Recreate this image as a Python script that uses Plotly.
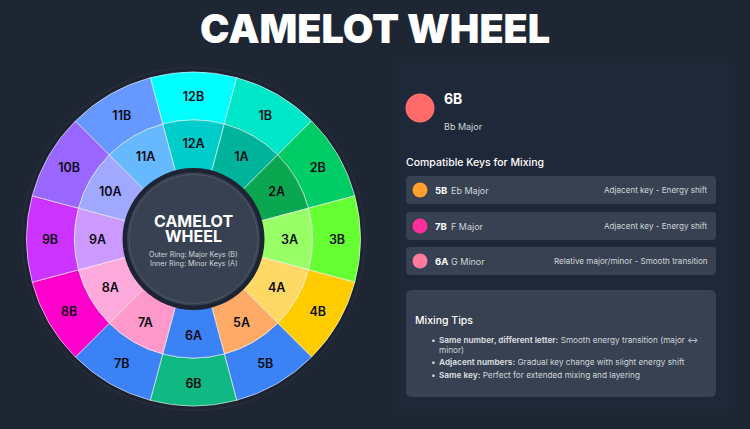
import plotly.graph_objects as go

W, H = 750, 429
BG = "#1e2533"
PANEL = "#1f2838"
ROW = "#374151"

# --- Wheel data ---
numbers = [12, 1, 2, 3, 4, 5, 6, 7, 8, 9, 10, 11]
slot_angles = [0, 30, 60, 90, 120, 150, 180, 210, 240, 270, 300, 330]
outer_labels = ["12B", "1B", "2B", "3B", "4B", "5B", "6B", "7B", "8B", "9B", "10B", "11B"]
inner_labels = ["12A", "1A", "2A", "3A", "4A", "5A", "6A", "7A", "8A", "9A", "10A", "11A"]
outer_colors = ["#00ffff", "#00e6c8", "#00cc66", "#66ff33", "#ffcc00", "#3b82f6",
                "#10b981", "#3b82f6", "#ff00cc", "#cc33ff", "#9966ff", "#6699ff"]
inner_colors = ["#00cccc", "#00b39b", "#0aa650", "#99ff66", "#ffd966", "#ffaa66",
                "#3b82f6", "#ff99cc", "#ffaadd", "#cc99ff", "#a0a8ff", "#66b8ff"]
outer_band = [119, 167]
inner_band = [70, 119]
outer_label_r = 143.5
inner_label_r = 96

# --- Panel data ---
selected_key = "6B"
selected_name = "Bb Major"
selected_color = "#ff6b6b"
compat_keys = ["5B", "7B", "6A"]
compat_names = ["Eb Major", "F Major", "G Minor"]
compat_notes = ["Adjacent key - Energy shift", "Adjacent key - Energy shift",
                "Relative major/minor - Smooth transition"]
compat_colors = ["#ff9f2e", "#ff2d9b", "#ff7a9c"]
row_tops = [176, 212, 247]
row_height = 28

fig = go.Figure()

# Wheel rings
for band, colors in ((outer_band, outer_colors), (inner_band, inner_colors)):
    fig.add_trace(go.Barpolar(
        theta=slot_angles, r=[band[1] - band[0]] * 12, base=[band[0]] * 12,
        width=[30] * 12, marker=dict(color=colors, line=dict(color="rgba(255,255,255,0.6)", width=1)),
        hoverinfo="skip", showlegend=False))

# Labels sit on a second polar subplot nudged down so the glyphs centre in their cells
for labels, radius in ((outer_labels, outer_label_r), (inner_labels, inner_label_r)):
    fig.add_trace(go.Scatterpolar(
        theta=slot_angles, r=[radius] * 12, text=labels, mode="text", subplot="polar2",
        textfont=dict(family="Inter", size=12.5, color="#0b0b14", weight=600),
        hoverinfo="skip", showlegend=False))

# Colour dots in the panel
fig.add_trace(go.Scatter(
    x=[420] * 3, y=[t + row_height / 2 for t in row_tops], mode="markers",
    marker=dict(size=15, color=compat_colors), hoverinfo="skip", showlegend=False))
fig.add_trace(go.Scatter(
    x=[420], y=[108], mode="markers",
    marker=dict(size=29, color=selected_color), hoverinfo="skip", showlegend=False))


def rrect(x0, y0, x1, y1, r, fill, layer="below"):
    path = (f"M{x0+r},{y0} L{x1-r},{y0} Q{x1},{y0} {x1},{y0+r} L{x1},{y1-r} Q{x1},{y1} {x1-r},{y1} "
            f"L{x0+r},{y1} Q{x0},{y1} {x0},{y1-r} L{x0},{y0+r} Q{x0},{y0} {x0+r},{y0} Z")
    return dict(type="path", path=path, xref="x", yref="y", fillcolor=fill, line_width=0, layer=layer)


def circle(cx, cy, r, fill="rgba(0,0,0,0)", line=None, lw=0, layer="above"):
    return dict(type="circle", xref="x", yref="y", x0=cx - r, x1=cx + r, y0=cy - r, y1=cy + r,
                fillcolor=fill, line=dict(color=line or "rgba(0,0,0,0)", width=lw), layer=layer)


CX, CY = 193.5, 239
shapes = [
    circle(CX, CY, 171.5, line="rgba(255,255,255,0.05)", lw=1, layer="below"),
    circle(CX, CY, 169, fill="#1c2230", layer="below"),
    rrect(393, 62, 729, 410, 8, PANEL),
    rrect(406, 290, 716, 397, 6, ROW),
    circle(CX, CY, 71, fill="#1c2433"),
    circle(CX, CY, 66.5, fill="#374151"),
    circle(CX, CY, 64.5, line="#4b5563", lw=1),
]
for t in row_tops:
    shapes.append(rrect(406, t, 716, t + row_height, 4, ROW))


def note(x, y, text, size=9, color="#e5e7eb", anchor="left", weight=400, family="Inter"):
    # annotations carry about 2px of inner padding, removed here so x is the glyph edge
    shift = {"left": -2, "right": 2, "center": 0}[anchor]
    return dict(x=x, y=y, xref="x", yref="y", text=text, showarrow=False, xanchor=anchor, yanchor="middle",
                xshift=shift, font=dict(family=family, size=size, color=color, weight=weight))


TIP = 8.2
ann = [
    note(375, 29, "CAMELOT WHEEL", size=39.5, color="#ffffff", anchor="center", weight=900),
    note(CX, 221, "CAMELOT", size=16, color="#ffffff", anchor="center", weight=700),
    note(CX, 235.5, "WHEEL", size=16, color="#ffffff", anchor="center", weight=700),
    note(CX, 254, "Outer Ring: Major Keys (B)", size=7.1, color="#d1d5db", anchor="center"),
    note(CX, 263, "Inner Ring: Minor Keys (A)", size=7.1, color="#d1d5db", anchor="center"),
    note(444, 98, selected_key, size=14, color="#ffffff", weight=700),
    note(444, 126, selected_name, size=9, color="#d1d5db"),
    note(406, 162, "Compatible Keys for Mixing", size=10.5, color="#ffffff", weight=500),
    note(415, 320, "Mixing Tips", size=10.5, color="#ffffff", weight=500),
    note(439, 340, "<b>Same number, different letter:</b> Smooth energy transition (major ↔", size=TIP, color="#d1d5db"),
    note(439, 350, "minor)", size=TIP, color="#d1d5db"),
    note(439, 362, "<b>Adjacent numbers:</b> Gradual key change with slight energy shift", size=TIP, color="#d1d5db"),
    note(439, 374.5, "<b>Same key:</b> Perfect for extended mixing and layering", size=TIP, color="#d1d5db"),
]
for by in (340, 362, 374.5):
    ann.append(note(433, by, "•", size=TIP, color="#d1d5db", anchor="center"))
for t, k, n, d in zip(row_tops, compat_keys, compat_names, compat_notes):
    cy = t + row_height / 2
    ann.append(note(434.5, cy, k, size=9.5, color="#ffffff", weight=700))
    ann.append(note(451, cy, n, size=9, color="#d1d5db"))
    ann.append(note(708, cy, d, size=8.1, color="#d1d5db", anchor="right"))

R = 175
LABEL_NUDGE = 2
fig.update_layout(
    width=W, height=H, margin=dict(l=0, r=0, t=0, b=0),
    paper_bgcolor=BG, plot_bgcolor=BG, showlegend=False,
    xaxis=dict(range=[0, W], visible=False, domain=[0, 1], fixedrange=True),
    yaxis=dict(range=[H, 0], visible=False, domain=[0, 1], fixedrange=True),
    polar=dict(
        domain=dict(x=[(CX - R) / W, (CX + R) / W], y=[(H - CY - R) / H, (H - CY + R) / H]),
        bgcolor="rgba(0,0,0,0)",
        barmode="overlay",
        radialaxis=dict(range=[0, R], visible=False),
        angularaxis=dict(visible=False, rotation=90, direction="clockwise"),
    ),
    polar2=dict(
        domain=dict(x=[(CX - R) / W, (CX + R) / W],
                    y=[(H - CY - R - LABEL_NUDGE) / H, (H - CY + R - LABEL_NUDGE) / H]),
        bgcolor="rgba(0,0,0,0)",
        radialaxis=dict(range=[0, R], visible=False),
        angularaxis=dict(visible=False, rotation=90, direction="clockwise"),
    ),
    shapes=shapes, annotations=ann,
)
fig.write_html("out.html", config=dict(displayModeBar=False),
               post_script="document.body.style.margin='0';document.body.style.background='%s';" % BG)
